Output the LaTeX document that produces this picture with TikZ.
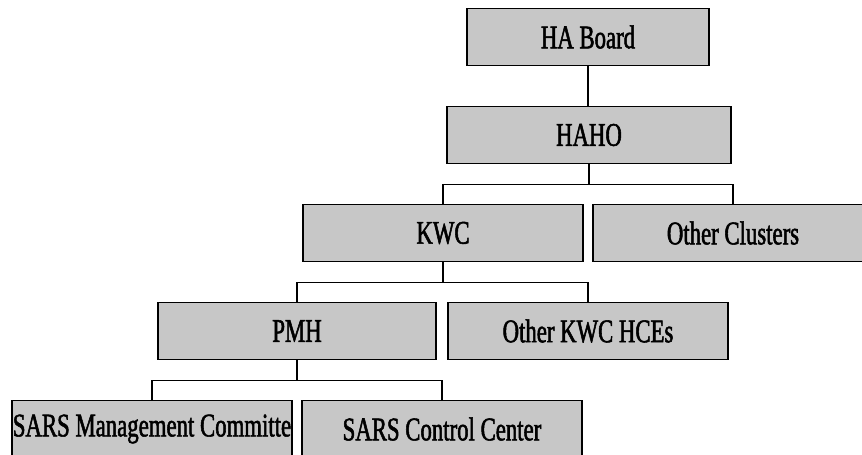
\documentclass[tikz,border=0pt]{standalone}
\usepackage{fontspec}
\setmainfont{Liberation Serif}[FakeStretch=0.69,FakeBold=1.6]
\usepackage{tikz}

\begin{document}
\begin{tikzpicture}[x=1pt,y=-1pt]
    % Box width
    \newcommand{\boxwidth}{280pt}
    % Box height
    \newcommand{\boxheight}{57pt}
    % First row
    \newcommand{\ytop}{37}
    % Row distance
    \newcommand{\ydiff}{98}
    % Half of the gap between rows
    \newcommand{\ybar}{20}
    % Boxes
    \tikzstyle{unit}=[rectangle, draw=black, line width=1.4pt, fill=black!22,
      minimum width=\boxwidth, minimum height=\boxheight, inner sep=0,
      font=\fontsize{33}{36}\selectfont]
    \tikzstyle{link}=[line width=1.2pt]
    \useasboundingbox (0,0) rectangle (862,455);

    % Top
    \node[unit, minimum width=242pt] (Board) at (588,\ytop) {HA Board};
    \node[unit, minimum width=284pt] (HAHO) at (589,\ytop+\ydiff) {HAHO};
    % Clusters
    \node[unit] (KWC) at (443,\ytop+2*\ydiff) {KWC};
    \node[unit] (Clusters) at (733,\ytop+2*\ydiff) {Other Clusters};
    % Hospitals
    \node[unit, minimum width=278pt] (PMH) at (297,\ytop+3*\ydiff) {PMH};
    \node[unit] (HCEs) at (588,\ytop+3*\ydiff) {Other KWC HCEs};
    % SARS units
    \node[unit] (Committee) at (152,\ytop+4*\ydiff) {SARS Management Committe};
    \node[unit] (Control) at (442,\ytop+4*\ydiff) {SARS Control Center};

    % Board to HAHO
    \draw[link] (Board.south) -- (Board.south |- HAHO.north);
    % HAHO to clusters
    \foreach \child in {KWC,Clusters}
      {
        \draw[link] (HAHO.south) -- ++(0,\ybar) -| (\child.north);
      }
    % KWC to hospitals
    \foreach \child in {PMH,HCEs}
      {
        \draw[link] (KWC.south) -- ++(0,\ybar) -| (\child.north);
      }
    % PMH to SARS units
    \foreach \child in {Committee,Control}
      {
        \draw[link] (PMH.south) -- ++(0,\ybar) -| (\child.north);
      }
  \end{tikzpicture}
\end{document}
